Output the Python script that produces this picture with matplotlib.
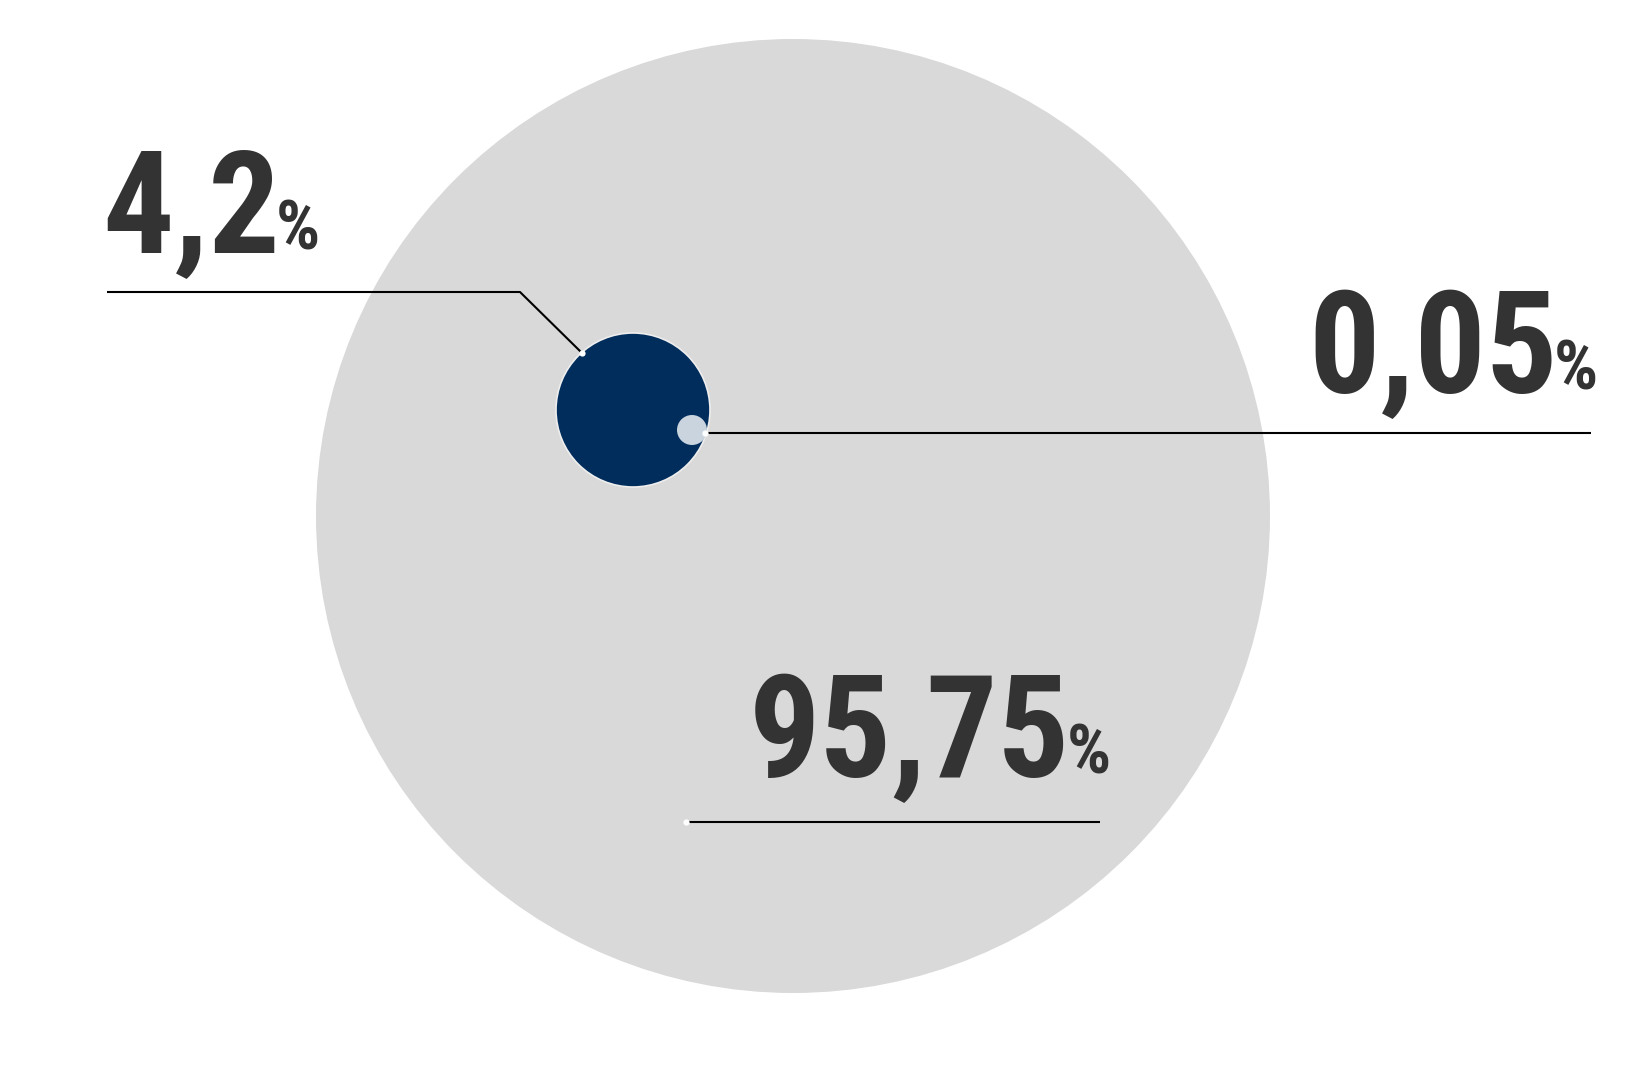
import matplotlib.pyplot as plt
from matplotlib.patches import Circle

# shares shown in the chart (percent)
shares = [95.75, 4.2, 0.05]
colors = ["#d9d9d9", "#002d5c", "#c9d4df"]
labels = [f"{v:g}".replace(".", ",") for v in shares]

# circle layout in pixel space (x, y, radius)
circles = [(793, 516, 477), (633, 410, 77), (692, 430, 15)]

# label layout: text left x, baseline y, leader line points
label_pos = [(749, 777), (102, 252), (1308, 393)]
leaders = [
    [(686, 822), (1100, 822)],
    [(582, 353), (520, 292), (107, 292)],
    [(705, 433), (1591, 433)],
]

W, H = 1650, 1065
fig = plt.figure(figsize=(W / 100, H / 100), dpi=100)
ax = fig.add_axes([0, 0, 1, 1])
ax.set_xlim(0, W)
ax.set_ylim(H, 0)
ax.axis("off")

for (cx, cy, r), c, i in zip(circles, colors, range(3)):
    ec = "#eeeeee" if i == 1 else "none"
    ax.add_patch(Circle((cx, cy), r, facecolor=c, edgecolor=ec, lw=1.2, zorder=1 + i))

# leader lines with a white dot where they touch the circle
for pts in leaders:
    xs = [p[0] for p in pts]
    ys = [p[1] for p in pts]
    ax.plot(xs, ys, color="black", lw=1.5, zorder=5, solid_capstyle="butt")
    ax.plot(xs[0], ys[0], "o", ms=4.5, color="white", mec="none", zorder=6)

fam = ["Liberation Sans Narrow", "Roboto Condensed", "DejaVu Sans"]
txt_color = "#333333"
texts = []
for lab, (x, y) in zip(labels, label_pos):
    t = ax.text(x, y, lab, fontsize=102, fontweight="bold", family=fam,
                color=txt_color, ha="left", va="baseline", zorder=7)
    texts.append(t)

fig.canvas.draw()
renderer = fig.canvas.get_renderer()
inv = ax.transData.inverted()
for t, (x, y) in zip(texts, label_pos):
    bb = t.get_window_extent(renderer)
    right = inv.transform((bb.x1, bb.y0))[0]
    ax.text(right - 4, y - 3, "%", fontsize=50, fontweight="bold", family=fam,
            color=txt_color, ha="left", va="baseline", zorder=7)

fig.savefig("out.png", dpi=100, facecolor="white")
